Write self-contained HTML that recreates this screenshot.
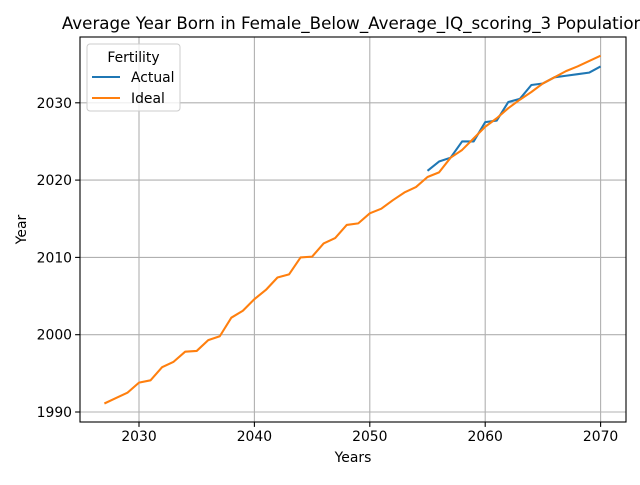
<!DOCTYPE html>
<html><head><meta charset="utf-8"><style>body{margin:0;background:#fff}svg{font-family:"DejaVu Sans","Liberation Sans",sans-serif}</style></head>
<body>
<svg id="c" width="640" height="480" viewBox="0 0 640 480"></svg>
<script>
const idealYears=[2027,2028,2029,2030,2031,2032,2033,2034,2035,2036,2037,2038,2039,2040,2041,2042,2043,2044,2045,2046,2047,2048,2049,2050,2051,2052,2053,2054,2055,2056,2057,2058,2059,2060,2061,2062,2063,2064,2065,2066,2067,2068,2069,2070];
const idealValues=[1991.1,1991.8,1992.5,1993.8,1994.1,1995.8,1996.5,1997.8,1997.9,1999.3,1999.8,2002.2,2003.1,2004.6,2005.8,2007.4,2007.8,2010.0,2010.1,2011.8,2012.5,2014.2,2014.4,2015.7,2016.3,2017.4,2018.4,2019.1,2020.4,2021.0,2022.9,2023.9,2025.4,2026.9,2028.0,2029.3,2030.4,2031.4,2032.5,2033.3,2034.1,2034.7,2035.4,2036.1];
const actualYears=[2055,2056,2057,2058,2059,2060,2061,2062,2063,2064,2065,2066,2067,2068,2069,2070];
const actualValues=[2021.2,2022.4,2022.9,2025.0,2025.0,2027.5,2027.7,2030.1,2030.5,2032.3,2032.5,2033.3,2033.5,2033.7,2033.9,2034.7];
const xTicks=[2030,2040,2050,2060,2070];
const yTicks=[1990,2000,2010,2020,2030];
const NS="http://www.w3.org/2000/svg",svg=document.getElementById('c');
const L=80,R=626,T=37,B=422;
const x=v=>139+(v-2030)*11.54;
const y=v=>412-(v-1990)*7.73;
function mk(t,a,p){const e=document.createElementNS(NS,t);for(const k in a)e.setAttribute(k,a[k]);(p||svg).appendChild(e);return e;}
const bg=mk('rect',{x:L,y:T,width:R-L,height:B-T,fill:'#fff'});


xTicks.forEach(t=>{const g=mk('line',{x1:x(t),x2:x(t),y1:T,y2:B,stroke:'#b0b0b0','stroke-width':1.1});


mk('line',{x1:x(t),x2:x(t),y1:B,y2:B+4.9,stroke:'#000','stroke-width':1.1});
const tx=mk('text',{x:x(t),y:B+19,'font-size':13.9,'text-anchor':'middle'});tx.textContent=t;

});
yTicks.forEach(t=>{const g=mk('line',{x1:L,x2:R,y1:y(t),y2:y(t),stroke:'#b0b0b0','stroke-width':1.1});


mk('line',{x1:L-4.9,x2:L,y1:y(t),y2:y(t),stroke:'#000','stroke-width':1.1});
const tx=mk('text',{x:L-8,y:y(t)+5,'font-size':13.9,'text-anchor':'end'});tx.textContent=t;

});
function line(xs,vs,c,n){const p=mk('polyline',{points:xs.map((v,i)=>x(v)+','+y(vs[i])).join(' '),fill:'none',stroke:c,'stroke-width':2.08,'stroke-linejoin':'round'});

}
line(actualYears,actualValues,'#1f77b4','actual-line');
line(idealYears,idealValues,'#ff7f0e','ideal-line');
const fr=mk('rect',{x:L,y:T,width:R-L,height:B-T,fill:'none',stroke:'#000','stroke-width':1.1});


const ti=mk('text',{x:(L+R)/2,y:T-8,'font-size':16.7,'text-anchor':'middle'});ti.textContent='Average Year Born in Female_Below_Average_IQ_scoring_3 Population';


const xl=mk('text',{x:(L+R)/2,y:462,'font-size':13.9,'text-anchor':'middle'});xl.textContent='Years';


const yl=mk('text',{x:26,y:(T+B)/2,'font-size':13.9,'text-anchor':'middle',transform:'rotate(-90 26 '+(T+B)/2+')'});yl.textContent='Year';


const lg=mk('g',{});


mk('rect',{x:87,y:44,width:93,height:67,rx:3,fill:'#fff','fill-opacity':0.8,stroke:'#ccc'},lg);
const lt=mk('text',{x:133.5,y:62,'font-size':13.9,'text-anchor':'middle'},lg);lt.textContent='Fertility';
[['Actual','#1f77b4',82],['Ideal','#ff7f0e',103]].forEach(([n,c,yy])=>{mk('line',{x1:92,x2:120,y1:yy-5,y2:yy-5,stroke:c,'stroke-width':2.08},lg);
const t=mk('text',{x:131,y:yy,'font-size':13.9},lg);t.textContent=n;

});
</script>
</body></html>
